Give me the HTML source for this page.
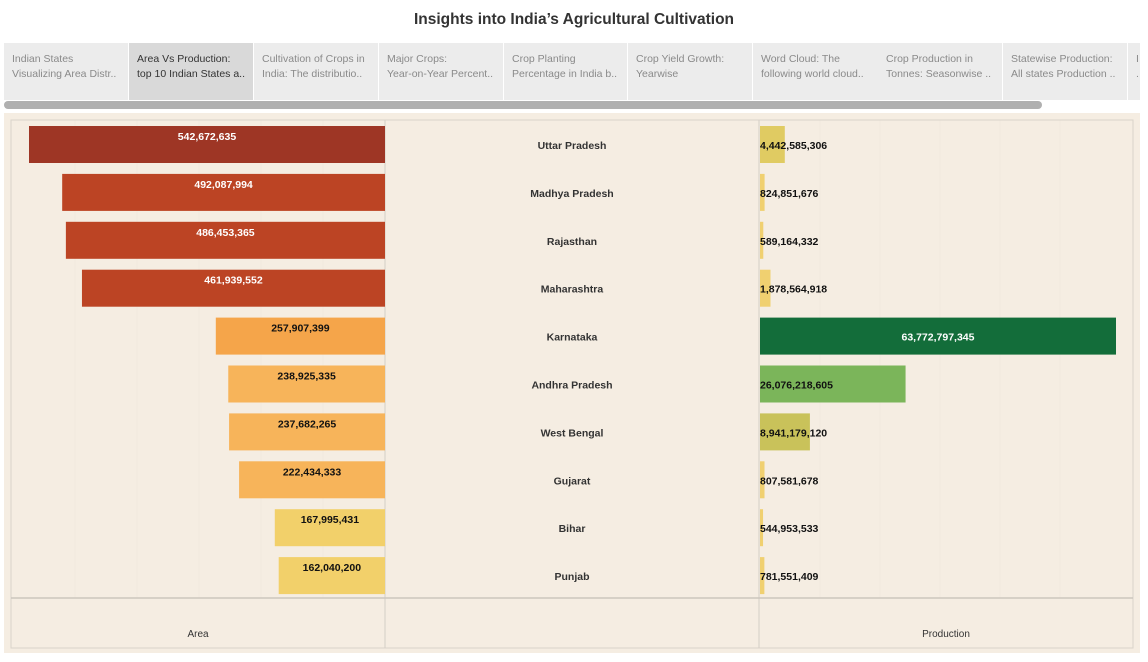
<!DOCTYPE html>
<html><head><meta charset="utf-8"><style>
body{margin:0;width:1148px;height:662px;background:#fff;font-family:"Liberation Sans",sans-serif;overflow:hidden;position:relative}
.title{position:absolute;top:11px;left:0;width:1148px;text-align:center;font-size:15.5px;font-weight:bold;color:#333}
.tabs{position:absolute;top:43px;left:4px;width:1136px;height:57px;background:#ececec}
.tab{position:absolute;top:0;height:57px;border-right:1px solid #fff;box-sizing:border-box;padding:9px 8px;font-size:10.5px;line-height:15px;color:#8a8a8a;white-space:nowrap;overflow:hidden}
.tab.sel{background:#d9d9d9;color:#333}
.scroll{position:absolute;top:101px;left:4px;width:1038px;height:8px;border-radius:4px;background:#b0b0b0}
.panel{position:absolute;top:113px;left:4px;width:1136px;height:540px;background:#f5ede2}
</style></head><body>
<div class="title">Insights into India’s Agricultural Cultivation</div>
<div class="tabs">
<div class="tab" style="left:0;width:125px">Indian States<br>Visualizing Area Distr..</div>
<div class="tab sel" style="left:125px;width:125px">Area Vs Production:<br>top 10 Indian States a..</div>
<div class="tab" style="left:250px;width:125px">Cultivation of Crops in<br>India: The distributio..</div>
<div class="tab" style="left:375px;width:125px">Major Crops:<br>Year-on-Year Percent..</div>
<div class="tab" style="left:500px;width:124px">Crop Planting<br>Percentage in India b..</div>
<div class="tab" style="left:624px;width:125px">Crop Yield Growth:<br>Yearwise</div>
<div class="tab" style="left:749px;width:125px;border-right:none">Word Cloud: The<br>following world cloud..</div>
<div class="tab" style="left:874px;width:125px">Crop Production in<br>Tonnes: Seasonwise ..</div>
<div class="tab" style="left:999px;width:125px">Statewise Production:<br>All states Production ..</div>
<div class="tab" style="left:1124px;width:12px">I<br>.</div>
</div>
<div class="scroll"></div>
<div class="panel"></div>
<svg id="c" width="1148" height="662" style="position:absolute;left:0;top:0"></svg>
<script>
const states=["Uttar Pradesh","Madhya Pradesh","Rajasthan","Maharashtra","Karnataka","Andhra Pradesh","West Bengal","Gujarat","Bihar","Punjab"];
const areaValues=[542672635,492087994,486453365,461939552,257907399,238925335,237682265,222434333,167995431,162040200];
const productionValues=[4442585306,824851676,589164332,1878564918,63772797345,26076218605,8941179120,807581678,544953533,781551409];
const areaColors=["#9e3625","#bc4424","#bc4424","#bc4424","#f5a54a","#f7b45a","#f7b45a","#f7b45a","#f2d06a","#f2d06a"];
const prodColors=["#e0cb62","#f0d070","#f0d070","#f0d070","#136d3a","#7bb55a","#c9c25a","#f0d070","#f0d070","#f0d070"];
const S="http://www.w3.org/2000/svg",svg=document.getElementById('c');
function el(t,a,txt){const e=document.createElementNS(S,t);for(const k in a)e.setAttribute(k,a[k]);if(txt!=null)e.textContent=txt;svg.appendChild(e);return e;}
const fmt=v=>v.toLocaleString('en-US');
const W=356,aMax=Math.max(...areaValues),pMax=Math.max(...productionValues);
const ax=v=>385-v/aMax*W, px=v=>760+v/pMax*W;
const rowY=i=>126+i*47.9;
for(let k=1;k<6;k++){el('line',{x1:385-k*62,x2:385-k*62,y1:120,y2:598,stroke:'#f1e9de'});el('line',{x1:760+k*60,x2:760+k*60,y1:120,y2:598,stroke:'#f1e9de'});}
let f;
f=el('rect',{x:11,y:120,width:1122,height:528,fill:'none',stroke:'#d9d3ca'});

el('line',{x1:385,x2:385,y1:120,y2:648,stroke:'#d4cec5'});
el('line',{x1:759,x2:759,y1:120,y2:648,stroke:'#d4cec5'});
el('line',{x1:11,x2:1133,y1:598,y2:598,stroke:'#ccc6bd','stroke-width':1.5});
states.forEach((s,i)=>{
 const y=rowY(i);
 let r=el('rect',{x:ax(areaValues[i]),y:y,width:385-ax(areaValues[i]),height:37,fill:areaColors[i]});
 
 let t=el('text',{x:(ax(areaValues[i])+385)/2,y:y+14,'text-anchor':'middle','font-size':10.5,'font-weight':'bold',fill:i<4?'#fff':'#111'},fmt(areaValues[i]));
 
 let n=el('text',{x:572,y:y+23,'text-anchor':'middle','font-size':10.5,'font-weight':'bold',fill:'#333'},s);
 
 let p=el('rect',{x:760,y:y,width:px(productionValues[i])-760,height:37,fill:prodColors[i]});
 
 const big=productionValues[i]/pMax>0.5;
 let q=el('text',{x:big?(760+px(productionValues[i]))/2:760,y:y+23,'text-anchor':big?'middle':'start','font-size':10.5,'font-weight':'bold',fill:big?'#fff':'#111'},fmt(productionValues[i]));
 
});
let a=el('text',{x:198,y:637,'text-anchor':'middle','font-size':10,fill:'#333'},'Area');

let b=el('text',{x:946,y:637,'text-anchor':'middle','font-size':10,fill:'#333'},'Production');

</script>
</body></html>
